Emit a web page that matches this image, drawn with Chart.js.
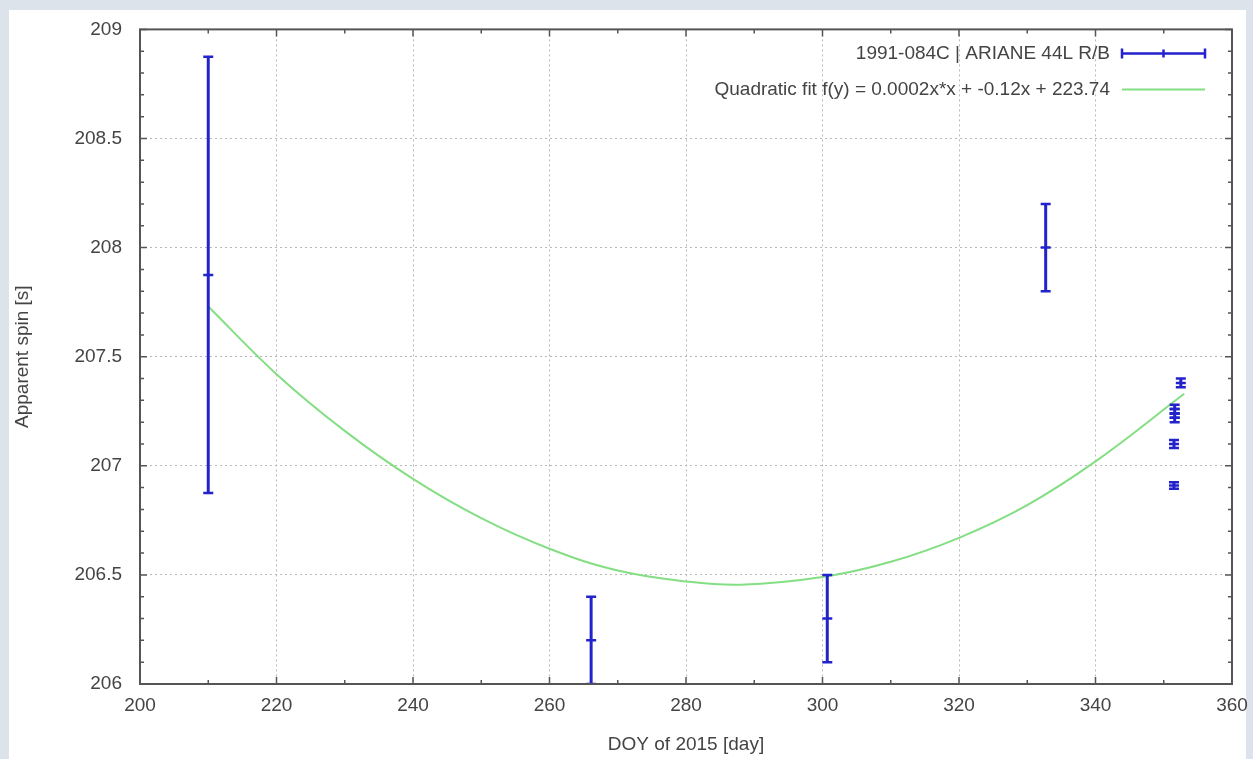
<!DOCTYPE html>
<html>
<head>
<meta charset="utf-8">
<title>1991-084C apparent spin</title>
<script src="https://cdn.jsdelivr.net/npm/chart.js@4.4.1/dist/chart.umd.min.js"></script>
<style>
  html, body { margin: 0; padding: 0; }
  body { width: 1253px; height: 759px; background: #dce3eb; position: relative; overflow: hidden; }
  #panel { position: absolute; left: 9px; top: 10px; width: 1237px; height: 749px; background: #fff; }
  #wrap { position: absolute; left: 0; top: 0; width: 1253px; height: 759px; }
</style>
</head>
<body>
<div id="panel"></div>
<div id="wrap"><canvas id="spin-chart" width="1253" height="759"></canvas></div>
<script>
(function () {
  'use strict';

  // measured spin periods (day of year, seconds, +/- error)
  var doy     = [210.0, 266.1, 300.7, 332.7, 351.6, 351.6, 351.6, 351.5, 351.5, 352.5];
  var spin    = [207.875, 206.2, 206.3, 208.0, 207.26, 207.24, 207.22, 207.10, 206.91, 207.38];
  var spinErr = [1.0, 0.2, 0.2, 0.2, 0.02, 0.02, 0.02, 0.018, 0.015, 0.02];

  // quadratic fit, sampled along the curve
  var fitDoy  = [210, 220, 230, 240, 250, 260, 270, 280, 288, 300, 310, 320, 330, 340, 353];
  var fitSpin = [207.73, 207.42, 207.16, 206.94, 206.76, 206.62, 206.52, 206.47, 206.455,
                 206.49, 206.56, 206.67, 206.82, 207.02, 207.33];

  var xTicks = [200, 220, 240, 260, 280, 300, 320, 340, 360];
  var yTicks = [206, 206.5, 207, 207.5, 208, 208.5, 209];

  var seriesLabel = '1991-084C | ARIANE 44L R/B';
  var fitLabel = 'Quadratic fit f(y) = 0.0002x*x + -0.12x + 223.74';

  var blue = '#2323cc';
  var green = '#84de84';
  var textColor = '#444444';
  var fontFamily = '"Liberation Sans", Arial, sans-serif';
  var fontSize = 19;

  // each error bar: low, value, high, then a gap
  var barPoints = [];
  doy.forEach(function (d, i) {
    barPoints.push({x: d, y: spin[i] - spinErr[i]});
    barPoints.push({x: d, y: spin[i]});
    barPoints.push({x: d, y: spin[i] + spinErr[i]});
    barPoints.push({x: d, y: null});
  });

  var fitPoints = fitDoy.map(function (d, i) { return {x: d, y: fitSpin[i]}; });

  Chart.defaults.font.family = fontFamily;
  Chart.defaults.font.size = fontSize;
  Chart.defaults.color = textColor;

  var gnuplotFrame = {
    id: 'gnuplotFrame',
    afterDraw: function (chart) {
      var ctx = chart.ctx;
      var a = chart.chartArea;
      var xs = chart.scales.x, ys = chart.scales.y;
      var major = 7, minor = 4;
      ctx.save();
      ctx.strokeStyle = '#555555';
      ctx.lineWidth = 1.5;
      ctx.beginPath();
      function vtick(px, len) {
        ctx.moveTo(px, a.bottom); ctx.lineTo(px, a.bottom - len);
        ctx.moveTo(px, a.top); ctx.lineTo(px, a.top + len);
      }
      function htick(py, len) {
        ctx.moveTo(a.left, py); ctx.lineTo(a.left + len, py);
        ctx.moveTo(a.right, py); ctx.lineTo(a.right - len, py);
      }
      xTicks.forEach(function (v, i) {
        vtick(xs.getPixelForValue(v), major);
        if (i < xTicks.length - 1) {
          vtick(xs.getPixelForValue((v + xTicks[i + 1]) / 2), minor);
        }
      });
      yTicks.forEach(function (v, i) {
        htick(ys.getPixelForValue(v), major);
        if (i < yTicks.length - 1) {
          var step = (yTicks[i + 1] - v) / 5;
          for (var k = 1; k < 5; k++) htick(ys.getPixelForValue(v + k * step), minor);
        }
      });
      ctx.stroke();
      ctx.lineWidth = 2;
      ctx.strokeRect(a.left, a.top, a.right - a.left, a.bottom - a.top);

      // key, top right inside the plot
      var textRight = a.right - 122;
      var sx0 = a.right - 110, sx1 = a.right - 27;
      var y1 = a.top + 24, y2 = a.top + 60;
      ctx.font = fontSize + 'px ' + fontFamily;
      ctx.fillStyle = textColor;
      ctx.textAlign = 'right';
      ctx.textBaseline = 'middle';
      ctx.fillText(seriesLabel, textRight, y1);
      ctx.fillText(fitLabel, textRight, y2);

      ctx.strokeStyle = blue;
      ctx.lineWidth = 2.5;
      ctx.beginPath();
      ctx.moveTo(sx0, y1); ctx.lineTo(sx1, y1);
      ctx.moveTo(sx0, y1 - 5); ctx.lineTo(sx0, y1 + 5);
      ctx.moveTo(sx1, y1 - 5); ctx.lineTo(sx1, y1 + 5);
      ctx.moveTo((sx0 + sx1) / 2, y1 - 4); ctx.lineTo((sx0 + sx1) / 2, y1 + 4);
      ctx.stroke();

      ctx.strokeStyle = green;
      ctx.lineWidth = 2;
      ctx.beginPath();
      ctx.moveTo(sx0, y2); ctx.lineTo(sx1, y2);
      ctx.stroke();
      ctx.restore();
    }
  };

  var ctx = document.getElementById('spin-chart').getContext('2d');
  window.spinChart = new Chart(ctx, {
    type: 'line',
    data: {
      datasets: [
        {
          label: seriesLabel,
          data: barPoints,
          borderColor: blue,
          borderWidth: 3,
          spanGaps: false,
          pointStyle: 'line',
          pointRadius: 5,
          pointBorderWidth: 2.5,
          pointBorderColor: blue,
          pointBackgroundColor: blue,
          pointHoverRadius: 5,
          order: 1
        },
        {
          label: fitLabel,
          data: fitPoints,
          borderColor: green,
          borderWidth: 2,
          tension: 0.4,
          pointRadius: 0,
          order: 2
        }
      ]
    },
    options: {
      responsive: false,
      animation: false,
      devicePixelRatio: 1,
      layout: { padding: { top: 29, right: 21, left: 0, bottom: 0 } },
      plugins: {
        legend: { display: false },
        tooltip: { enabled: false }
      },
      scales: {
        x: {
          type: 'linear',
          min: 200,
          max: 360,
          afterBuildTicks: function (scale) {
            scale.ticks = xTicks.map(function (v) { return {value: v}; });
          },
          afterFit: function (scale) {
            scale.height = 75;
            scale.paddingLeft = 0;
            scale.paddingRight = 0;
          },
          grid: { color: '#b8b8b8', lineWidth: 1, drawTicks: false },
          border: { display: false, dash: [2, 3] },
          ticks: {
            padding: 10, color: textColor, maxRotation: 0, autoSkip: false,
            callback: function (v) { return String(v); }
          },
          title: {
            display: true,
            text: 'DOY of 2015 [day]',
            color: textColor,
            padding: { top: 2, bottom: 3 }
          }
        },
        y: {
          type: 'linear',
          min: 206,
          max: 209,
          afterBuildTicks: function (scale) {
            scale.ticks = yTicks.map(function (v) { return {value: v}; });
          },
          afterFit: function (scale) { scale.width = 140; },
          grid: { color: '#b8b8b8', lineWidth: 1, drawTicks: false },
          border: { display: false, dash: [2, 3] },
          ticks: {
            padding: 18, color: textColor, autoSkip: false,
            callback: function (v) { return String(v); }
          },
          title: {
            display: true,
            text: 'Apparent spin [s]',
            color: textColor,
            padding: { top: 11, bottom: 4 }
          }
        }
      }
    },
    plugins: [gnuplotFrame]
  });
})();
</script>
</body>
</html>
